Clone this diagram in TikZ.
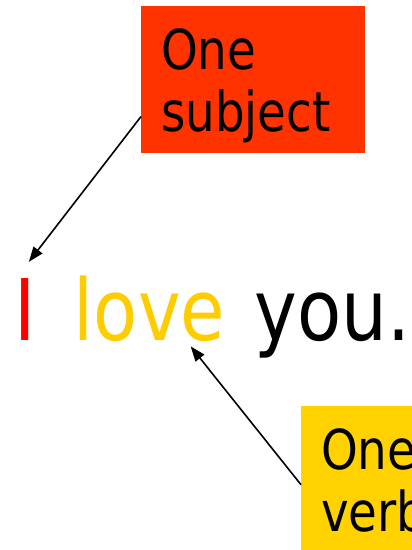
\documentclass[tikz,border=0pt]{standalone}
\usepackage{fontspec}
\setmainfont{DejaVu Sans}[FakeStretch=0.85]
\usepackage{tikz}
\usetikzlibrary{positioning,arrows.meta,calc}
\definecolor{subjred}{HTML}{FF3300}
\definecolor{verbyellow}{HTML}{FFD200}
\definecolor{lovecolor}{HTML}{FFCC00}
\tikzset{
  notebox/.style={anchor=north west, align=left, font=\fontsize{55}{62}\selectfont,
    inner xsep=20pt, inner ysep=0pt, text width=184pt, text height=63.5pt, text depth=83.5pt},
  wordnode/.style={inner sep=0pt, font=\fontsize{85}{100}\selectfont},
  notearrow/.style={-{Triangle[length=15pt,width=11pt]}, line width=1.6pt},
}

\begin{document}
\begin{tikzpicture}[x=1pt, y=-1pt]
  \useasboundingbox (0,0) rectangle (412,550);
  \clip (0,0) rectangle (412,550);
  \node[notebox, fill=subjred] (subjbox) at (141,6) {One\\subject};
  \node[notebox, fill=verbyellow] (verbbox) at (301,406) {One\\verb};
  \node[wordnode, anchor=base west, text=red] (subj) at (14,340) {I};
  \node[wordnode, base right=38pt of subj, text=lovecolor] (verb) {love};
  \node[wordnode, base right=29pt of verb] (obj) {you.};
  \draw[notearrow] ($(subjbox.west)!0.5!(subjbox.south west)$) -- ([shift={(4pt,16pt)}]subj.north);
  \draw[notearrow] ([yshift=-5pt]verbbox.west) -- ([shift={(41pt,-5pt)}]verb.south);
\end{tikzpicture}
\end{document}
